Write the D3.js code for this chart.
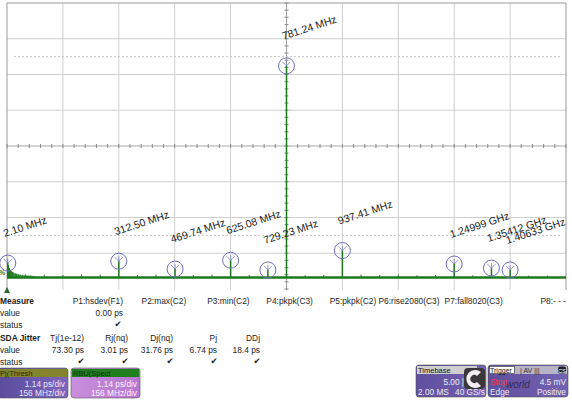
<!DOCTYPE html>
<html><head><meta charset="utf-8">
<script src="https://cdn.jsdelivr.net/npm/d3@7/dist/d3.min.js"></script>
<style>
html,body{margin:0;padding:0;background:#fff;}
svg{display:block;font-family:"Liberation Sans",Arial,sans-serif;}
</style></head>
<body>
<svg id="c" width="572" height="402"></svg>
<script>
// ---- data ----
const peakFreqs  = [2.10, 312.50, 469.74, 625.08, 729.23, 781.24, 937.41, 1249.99, 1354.12, 1406.33];
const peakLabels = ["2.10 MHz","312.50 MHz","469.74 MHz","625.08 MHz","729.23 MHz","781.24 MHz","937.41 MHz","1.24999 GHz","1.35412 GHz","1.40633 GHz"];
const peakValues = [0.46, 0.52, 0.27, 0.55, 0.24, 6.75, 0.86, 0.43, 0.30, 0.24];
const minorFreqs  = [52.08,104.17,156.25,208.33,260.42,364.58,416.67,520.83,572.92,677.08,833.33,885.42,989.58,1041.67,1093.75,1145.83,1197.92,1302.08,1458.33,1510.42];
const minorValues = [0.10,0.09,0.08,0.10,0.09,0.08,0.09,0.08,0.09,0.08,0.07,0.08,0.09,0.08,0.09,0.07,0.08,0.07,0.06,0.06];
const noiseFreqs  = [4, 7, 10, 13, 16, 19, 23, 27, 32, 37, 43, 50, 58, 66, 76];
const noiseValues = [0.40, 0.30, 0.24, 0.20, 0.17, 0.15, 0.13, 0.12, 0.10, 0.09, 0.08, 0.07, 0.06, 0.06, 0.05];
const xDivs = [0,1,2,3,4,5,6,7,8,9,10];
const yDivs = [-4,-3,-2,-1,0,1,2,3,4];
const measureCols = ["P1:hsdev(F1)","P2:max(C2)","P3:min(C2)","P4:pkpk(C3)","P5:pkpk(C2)","P6:rise2080(C3)","P7:fall8020(C3)","P8:- - -"];
const measureVals = ["0.00 ps"];
const jitterCols = ["Tj(1e-12)","Rj(nq)","Dj(nq)","Pj","DDj"];
const jitterVals = ["73.30 ps","3.01 ps","31.76 ps","6.74 ps","18.4 ps"];

// ---- scales ----
const svg = d3.select("#c");
const x = d3.scaleLinear().domain([0, 1562.5]).range([7, 566]);
const y = d3.scaleLinear().domain([0, 1.14]).range([277.5, 241.75]);
const gx = d3.scaleLinear().domain([0, 10]).range([7, 566]);
const gy = d3.scaleLinear().domain([-4, 4]).range([289, 3]);

// grid
const g = svg.append("g");
g.selectAll(".vl").data(xDivs.filter(d=>d>0&&d<10)).join("line")
  .attr("x1",d=>gx(d)).attr("x2",d=>gx(d)).attr("y1",3).attr("y2",290)
  .attr("stroke",d=>d===5?"#a0a0a0":"#cfcfcf").attr("stroke-width",1);
g.selectAll(".hl").data(yDivs.filter(d=>d>-4&&d<4)).join("line")
  .attr("x1",7).attr("x2",566).attr("y1",d=>gy(d)).attr("y2",d=>gy(d))
  .attr("stroke",d=>d===0?"#a8a8a8":"#cfcfcf").attr("stroke-width",1);
// dotted reference lines
[2.5,-2.5].forEach(v=>{
  g.append("line").attr("x1",14).attr("x2",562).attr("y1",gy(v)).attr("y2",gy(v))
   .attr("stroke","#c4c4c4").attr("stroke-dasharray","2,2");
});
// border
g.append("path").attr("d",`M7,290V3H566V290`).attr("fill","none").attr("stroke","#9a9a9a").attr("stroke-width",1);
// center ticks
const vt = d3.range(-4*5, 4*5+1).map(i=>i/5);
g.selectAll(".ct").data(vt).join("line")
  .attr("x1",gx(5)-2).attr("x2",gx(5)+2).attr("y1",d=>gy(d)).attr("y2",d=>gy(d))
  .attr("stroke","#8a8a8a");
const ht = d3.range(0, 51).map(i=>i/5);
g.selectAll(".ht").data(ht).join("line")
  .attr("y1",gy(0)-2).attr("y2",gy(0)+2).attr("x1",d=>gx(d)).attr("x2",d=>gx(d))
  .attr("stroke","#8a8a8a");

// spectrum
const green = "#1c781c";
const sp = svg.append("g");
sp.selectAll(".n").data(noiseFreqs).join("line")
  .attr("x1",d=>x(d)).attr("x2",d=>x(d)).attr("y1",y(0)).attr("y2",(d,i)=>y(noiseValues[i]))
  .attr("stroke",green).attr("stroke-width",1);
sp.append("path").attr("fill",green).attr("opacity",0.55)
  .attr("d", d3.area().x((d,i)=>x(noiseFreqs[i])).y0(y(0)).y1((d,i)=>y(noiseValues[i]))(noiseFreqs));
sp.selectAll(".m").data(minorFreqs).join("line")
  .attr("x1",d=>x(d)).attr("x2",d=>x(d)).attr("y1",y(0)).attr("y2",(d,i)=>y(minorValues[i]))
  .attr("stroke",green).attr("stroke-width",1);
sp.selectAll(".p").data(peakFreqs).join("line")
  .attr("x1",d=>x(d)).attr("x2",d=>x(d)).attr("y1",y(0)).attr("y2",(d,i)=>y(peakValues[i]))
  .attr("stroke",green).attr("stroke-width",1.5);
sp.append("line").attr("x1",x(0)).attr("x2",x(1562.5)).attr("y1",y(0)).attr("y2",y(0))
  .attr("stroke",green).attr("stroke-width",2.4);

// markers
const mk = svg.append("g");
peakFreqs.forEach((f,i)=>{
  const cx = x(f), cy = y(peakValues[i]);
  mk.append("circle").attr("cx",cx).attr("cy",cy).attr("r",8)
    .attr("fill","none").attr("stroke","#6f6fc0").attr("stroke-width",1);
  mk.append("path").attr("d",`M${cx-4},${cy-4}L${cx},${cy}L${cx+4},${cy-4}M${cx},${cy}V${cy-5}`)
    .attr("fill","none").attr("stroke","#7a7ac4").attr("stroke-width",0.8);
  mk.append("text").attr("transform",`translate(${cx-3},${cy-26}) rotate(-18)`)
    .attr("font-size",10.5).attr("fill","#1a1a1a").text(peakLabels[i]);
});

// channel marker + trigger marker
svg.append("text").attr("x",-1).attr("y",275).attr("font-size",7).attr("fill",green).attr("font-weight","bold").text("%");
svg.append("path").attr("d","M4,293L7,287L10,293Z").attr("fill","#2a6a2a");

// ---- measure table ----
const tt = svg.append("g").attr("font-size",8.4).attr("fill","#1e1e1e");
function T(xp, yp, s, anchor, bold){
  return tt.append("text").attr("x",xp).attr("y",yp).attr("text-anchor",anchor||"start")
    .attr("font-weight",bold?"bold":"normal").text(s);
}
T(0,304,"Measure","start",true);
T(0,316,"value"); T(0,328,"status");
measureCols.forEach((c,i)=>T(123+63.3*i,304,c,"end"));
measureVals.forEach((v,i)=>T(123+63.3*i,316,v,"end"));
function check(xp,yp){
  tt.append("text").attr("x",xp).attr("y",yp).attr("text-anchor","middle")
    .attr("font-family","DejaVu Sans").attr("font-size",8.5).attr("fill","#222").text("\u2714");
}
check(118,327);
T(0,341,"SDA Jitter","start",true);
T(0,353,"value"); T(0,365,"status");
const jr = [84,128,173,217,260];
jitterCols.forEach((c,i)=>T(jr[i],341,c,"end"));
jitterVals.forEach((v,i)=>T(jr[i],353,v,"end"));
jr.forEach(r=>check(r-3,364));

// ---- descriptor boxes ----
const defs = svg.append("defs");
function grad(id,c1,c2){
  const lg = defs.append("linearGradient").attr("id",id).attr("x1",0).attr("y1",0).attr("x2",1).attr("y2",0);
  lg.append("stop").attr("offset",0).attr("stop-color",c1);
  lg.append("stop").attr("offset",1).attr("stop-color",c2);
}
grad("g1","#5a4c9c","#7c66bc");
grad("g2","#c98fdc","#b476cf");
grad("g3","#5f4f9f","#7462b2");
function box(x0,w,hdrCol,bodyFill,hdrText,hdrTextCol,l1,l2,txtCol){
  const b = svg.append("g");
  b.append("rect").attr("x",x0).attr("y",368).attr("width",w).attr("height",30).attr("rx",3)
    .attr("fill",bodyFill).attr("stroke","#555").attr("stroke-width",0.6);
  b.append("rect").attr("x",x0+1).attr("y",369).attr("width",w-2).attr("height",8).attr("fill",hdrCol);
  b.append("text").attr("x",x0+2).attr("y",376).attr("font-size",7.5).attr("fill",hdrTextCol).text(hdrText);
  b.append("text").attr("x",x0+w-3).attr("y",387).attr("text-anchor","end").attr("font-size",8.3).attr("fill",txtCol).text(l1);
  b.append("text").attr("x",x0+w-3).attr("y",396).attr("text-anchor","end").attr("font-size",8.3).attr("fill",txtCol).text(l2);
}
box(-2,70,"#84842c","url(#g1)","Pj(Thresh","#2a2a10","1.14 ps/div","156 MHz/div","#ece6ff");
box(71,69,"#1f7f1f","url(#g2)","RBU(Spect","#103010","1.14 ps/div","156 MHz/div","#fff2ff");

// timebase
const tb = svg.append("g");
tb.append("rect").attr("x",416).attr("y",365).attr("width",70).attr("height",32).attr("rx",3)
  .attr("fill","url(#g3)").attr("stroke","#555").attr("stroke-width",0.6);
tb.append("rect").attr("x",417).attr("y",366).attr("width",60).attr("height",8).attr("fill","#cfcfcf");
tb.append("text").attr("x",418).attr("y",373).attr("font-size",7.5).attr("fill","#111").text("Timebase");
tb.append("text").attr("x",464).attr("y",385).attr("text-anchor","end").attr("font-size",8.3).attr("fill","#eee").text("5.00 |");
tb.append("text").attr("x",418).attr("y",395).attr("font-size",8.3).attr("fill","#eee").text("2.00 MS");
tb.append("text").attr("x",485).attr("y",395).attr("text-anchor","end").attr("font-size",8.3).attr("fill","#eee").text("40 GS/s");
// logo
tb.append("rect").attr("x",464).attr("y",368).attr("width",21).attr("height",21).attr("rx",4).attr("fill","#3a3838");
tb.append("path").attr("d","M481,372A9,9 0 1 0 481,386L477,382A4,4 0 1 1 477,376Z").attr("fill","#f4eef4");
// trigger
const tr = svg.append("g");
tr.append("rect").attr("x",488).attr("y",365).attr("width",80).attr("height",32).attr("rx",3)
  .attr("fill","url(#g3)").attr("stroke","#555").attr("stroke-width",0.6);
tr.append("rect").attr("x",489).attr("y",366).attr("width",78).attr("height",8).attr("fill","#b8b4c8");
tr.append("rect").attr("x",489.5).attr("y",366.5).attr("width",25).attr("height",7).attr("fill","#fff").attr("stroke","#222").attr("stroke-width",0.6);
tr.append("text").attr("x",490).attr("y",373).attr("font-size",7).attr("fill","#111").text("Trigger");
tr.append("text").attr("x",520).attr("y",373).attr("font-size",7).attr("fill","#333").text("| AV |||");
tr.append("rect").attr("x",558).attr("y",366.5).attr("width",8).attr("height",7).attr("rx",2).attr("fill","#222");
tr.append("text").attr("x",562).attr("y",372.5).attr("text-anchor","middle").attr("font-size",5.5).attr("fill","#fff").text("CS");
tr.append("text").attr("x",506).attr("y",388).attr("font-size",10).attr("font-style","italic").attr("fill","#2a2440").attr("opacity",0.8).text("world");
tr.append("text").attr("x",490).attr("y",385).attr("font-size",8.3).attr("fill","#ff3a3a").text("Stop");
tr.append("text").attr("x",566).attr("y",385).attr("text-anchor","end").attr("font-size",8.3).attr("fill","#eee").text("4.5 mV");
tr.append("text").attr("x",490).attr("y",395).attr("font-size",8.3).attr("fill","#eee").text("Edge");
tr.append("text").attr("x",566).attr("y",395).attr("text-anchor","end").attr("font-size",8.3).attr("fill","#eee").text("Positive");
</script>
</body></html>
